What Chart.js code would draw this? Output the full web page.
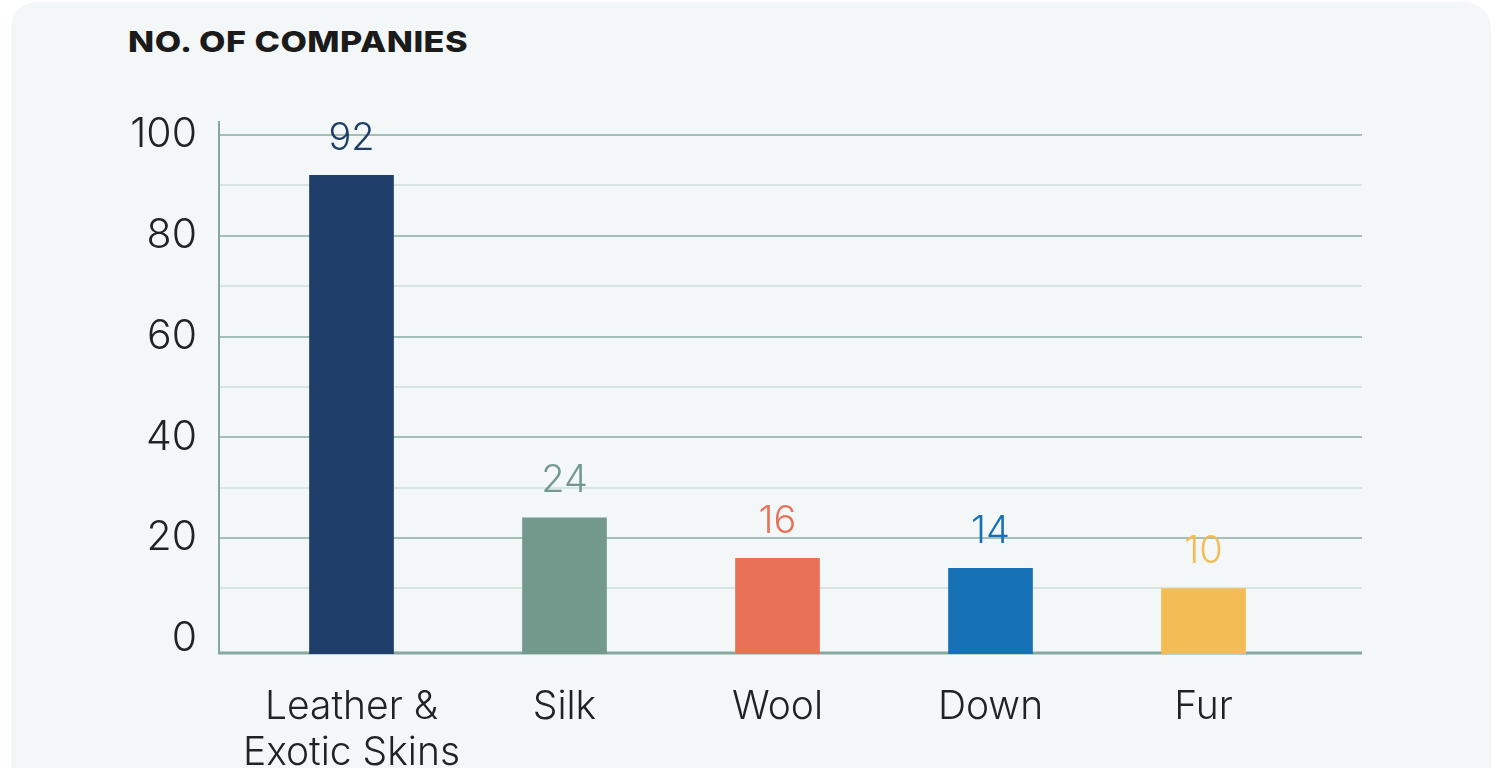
<!DOCTYPE html>
<html>
<head>
<meta charset="utf-8">
<script src="https://cdn.jsdelivr.net/npm/chart.js@4.4.0/dist/chart.umd.min.js"></script>
<style>
  html, body { margin: 0; padding: 0; background: #ffffff; overflow: hidden; }
  .panel {
    position: absolute; left: 11px; top: 2px; width: 1480px; height: 800px;
    background: #f3f7f8; border-radius: 26px;
  }
  .title {
    position: absolute; left: 128px; top: 24px;
    font-family: Inter, "Open Sans", sans-serif; font-weight: 800;
    font-size: 29px; line-height: 36px; color: #1b1b1b; letter-spacing: 0.4px;
    transform: scaleX(1.18); transform-origin: left center; white-space: nowrap;
  }
  .wrap { position: absolute; left: 0; top: 0; width: 1498px; height: 768px; }
</style>
</head>
<body>
<div class="panel"></div>
<div class="title">NO. OF COMPANIES</div>
<div class="wrap"><canvas id="chart"></canvas></div>
<script>
const categories = [['Leather &', 'Exotic Skins'], 'Silk', 'Wool', 'Down', 'Fur'];
const companies = [92, 24, 16, 14, 10];
const barColors = ['#1e3d69', '#73998c', '#e87158', '#1570b5', '#f4bc55'];
const yTicks = [0, 20, 40, 60, 80, 100];
const gridValues = [10, 20, 30, 40, 50, 60, 70, 80, 90, 100];

// the baseline in the original sits a little below the zero tick
const yMin = -3;

const FONT = 'Inter, "Open Sans", sans-serif';

// grid lines run a bit wider than the bar area, like the original
const gridPlugin = {
    id: 'wideGrid',
    beforeDatasetsDraw(chart) {
        const { ctx, chartArea, scales } = chart;
        const left = chartArea.left - 26;
        const right = chartArea.right + 52;
        ctx.save();
        gridValues.forEach(v => {
            const y = Math.round(scales.y.getPixelForValue(v));
            ctx.strokeStyle = v % 20 === 0 ? '#a3bfb6' : '#d7e4e0';
            ctx.lineWidth = 2;
            ctx.beginPath();
            ctx.moveTo(left, y);
            ctx.lineTo(right, y);
            ctx.stroke();
        });
        // axes
        const yb = Math.round(chartArea.bottom) - 1;
        ctx.strokeStyle = '#86a89d';
        ctx.lineWidth = 2;
        ctx.beginPath();
        ctx.moveTo(left, chartArea.top - 14);
        ctx.lineTo(left, yb);
        ctx.stroke();
        ctx.lineWidth = 3;
        ctx.beginPath();
        ctx.moveTo(left - 1, yb);
        ctx.lineTo(right, yb);
        ctx.stroke();
        ctx.restore();
    },
    afterDatasetsDraw(chart) {
        const { ctx } = chart;
        const meta = chart.getDatasetMeta(0);
        ctx.save();
        ctx.font = '300 38px ' + FONT;
        ctx.textAlign = 'center';
        ctx.textBaseline = 'middle';
        meta.data.forEach((bar, i) => {
            ctx.fillStyle = barColors[i];
            ctx.fillText(companies[i], bar.x, bar.y - 37);
        });
        ctx.restore();
    }
};

new Chart(document.getElementById('chart'), {
    type: 'bar',
    data: {
        labels: categories,
        datasets: [{
            data: companies,
            backgroundColor: barColors,
            base: yMin,
            barThickness: 84,
            borderWidth: 0
        }]
    },
    options: {
        responsive: true,
        maintainAspectRatio: false,
        animation: false,
        layout: { padding: { top: 135, right: 188, left: 0, bottom: 0 } },
        plugins: {
            legend: { display: false },
            tooltip: { enabled: false }
        },
        scales: {
            x: {
                offset: true,
                grid: { display: false },
                border: { display: false },
                ticks: {
                    color: '#222222',
                    font: { family: FONT, size: 39, weight: 300, lineHeight: 1.18 },
                    padding: 22,
                    maxRotation: 0,
                    autoSkip: false
                },
                afterFit(scale) { scale.height = 114; }
            },
            y: {
                min: yMin,
                max: 100,
                grid: { display: false, drawTicks: false },
                border: { display: false },
                afterBuildTicks(scale) { scale.ticks = yTicks.map(v => ({ value: v })); },
                ticks: {
                    color: '#222222',
                    font: { family: FONT, size: 41, weight: 300 },
                    padding: 48,
                    autoSkip: false
                },
                afterFit(scale) { scale.width = 245; }
            }
        }
    },
    plugins: [gridPlugin]
});
</script>
</body>
</html>
